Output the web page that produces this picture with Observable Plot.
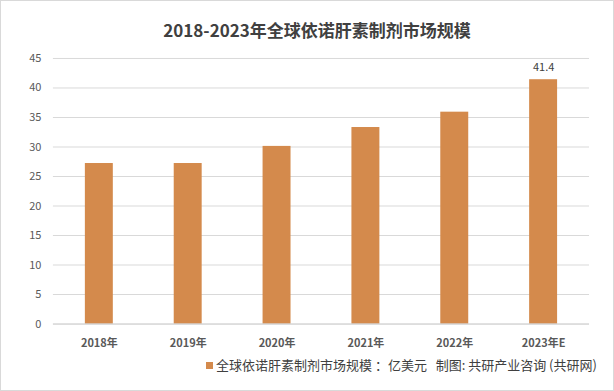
<!DOCTYPE html>
<html><head><meta charset="utf-8">
<script src="https://cdn.jsdelivr.net/npm/d3@7"></script>
<script src="https://cdn.jsdelivr.net/npm/@observablehq/plot@0.6"></script>
<style>
body{margin:0;background:#fff;font-family:"Noto Sans CJK SC","Noto Sans",sans-serif;}
#wrap{position:relative;width:612px;height:389px;border:1px solid #d9d9d9;background:#fff;overflow:hidden;}
#title{position:absolute;left:0;top:17px;width:632px;text-align:center;font-size:17px;font-weight:bold;color:#404040;line-height:24px;}
#chart{position:absolute;left:-1px;top:39px;}
#legend{position:absolute;left:205px;top:355px;font-size:13px;color:#404040;line-height:18px;white-space:nowrap;}
#legend .sw{display:inline-block;width:7px;height:7px;background:#D48A4C;margin-right:3px;vertical-align:1px;}
</style></head>
<body>
<div id="wrap">
<div id="title">2018-2023年全球依诺肝素制剂市场规模</div>
<div id="chart"></div>
<div id="legend"><span class="sw"></span>全球依诺肝素制剂市场规模 ：亿美元&nbsp;&nbsp;&nbsp;制图: 共研产业咨询 (共研网)</div>
</div>
<script>
const years = ["2018年","2019年","2020年","2021年","2022年","2023年E"];
const values = [27.2, 27.2, 30.1, 33.3, 35.9, 41.4];
const labeled = ["2023年E"];
const yTicks = [0,5,10,15,20,25,30,35,40,45];

const data = years.map((y,i)=>({year:y, value:values[i]}));

const plot = Plot.plot({
  width: 614,
  height: 316,
  marginTop: 18,
  marginBottom: 32,
  marginLeft: 53,
  marginRight: 24,
  style: {fontFamily: '"Noto Sans CJK SC","Noto Sans",sans-serif', fontSize: "11px", color: "#595959", background: "transparent"},
  x: {domain: years, paddingInner: 0.69, paddingOuter: 0.345, label: null, tickSize: 0, tickPadding: 15},
  y: {domain: [0,45], ticks: yTicks, label: null, tickSize: 0, tickPadding: 12},
  marks: [
    Plot.gridY(yTicks.filter(t=>t>0), {stroke:"#d9d9d9", strokeOpacity:1, strokeWidth:1}),
    Plot.barY(data, {x:"year", y:"value", fill:"#D48A4C"}),
    Plot.ruleY([0], {stroke:"#bfbfbf", strokeWidth:1}),
    Plot.text(data.filter(d=>labeled.includes(d.year)), {x:"year", y:"value", text:d=>d.value.toFixed(1), dy:-12, fill:"#404040", fontSize:11}),
    Plot.axisX({tickSize:0, tickPadding:15, fontWeight:"bold", fill:"#595959"}),
    Plot.axisY({ticks:yTicks, tickSize:0, tickPadding:12, fill:"#595959"})
  ]
});
document.getElementById("chart").appendChild(plot);
</script>
</body></html>
